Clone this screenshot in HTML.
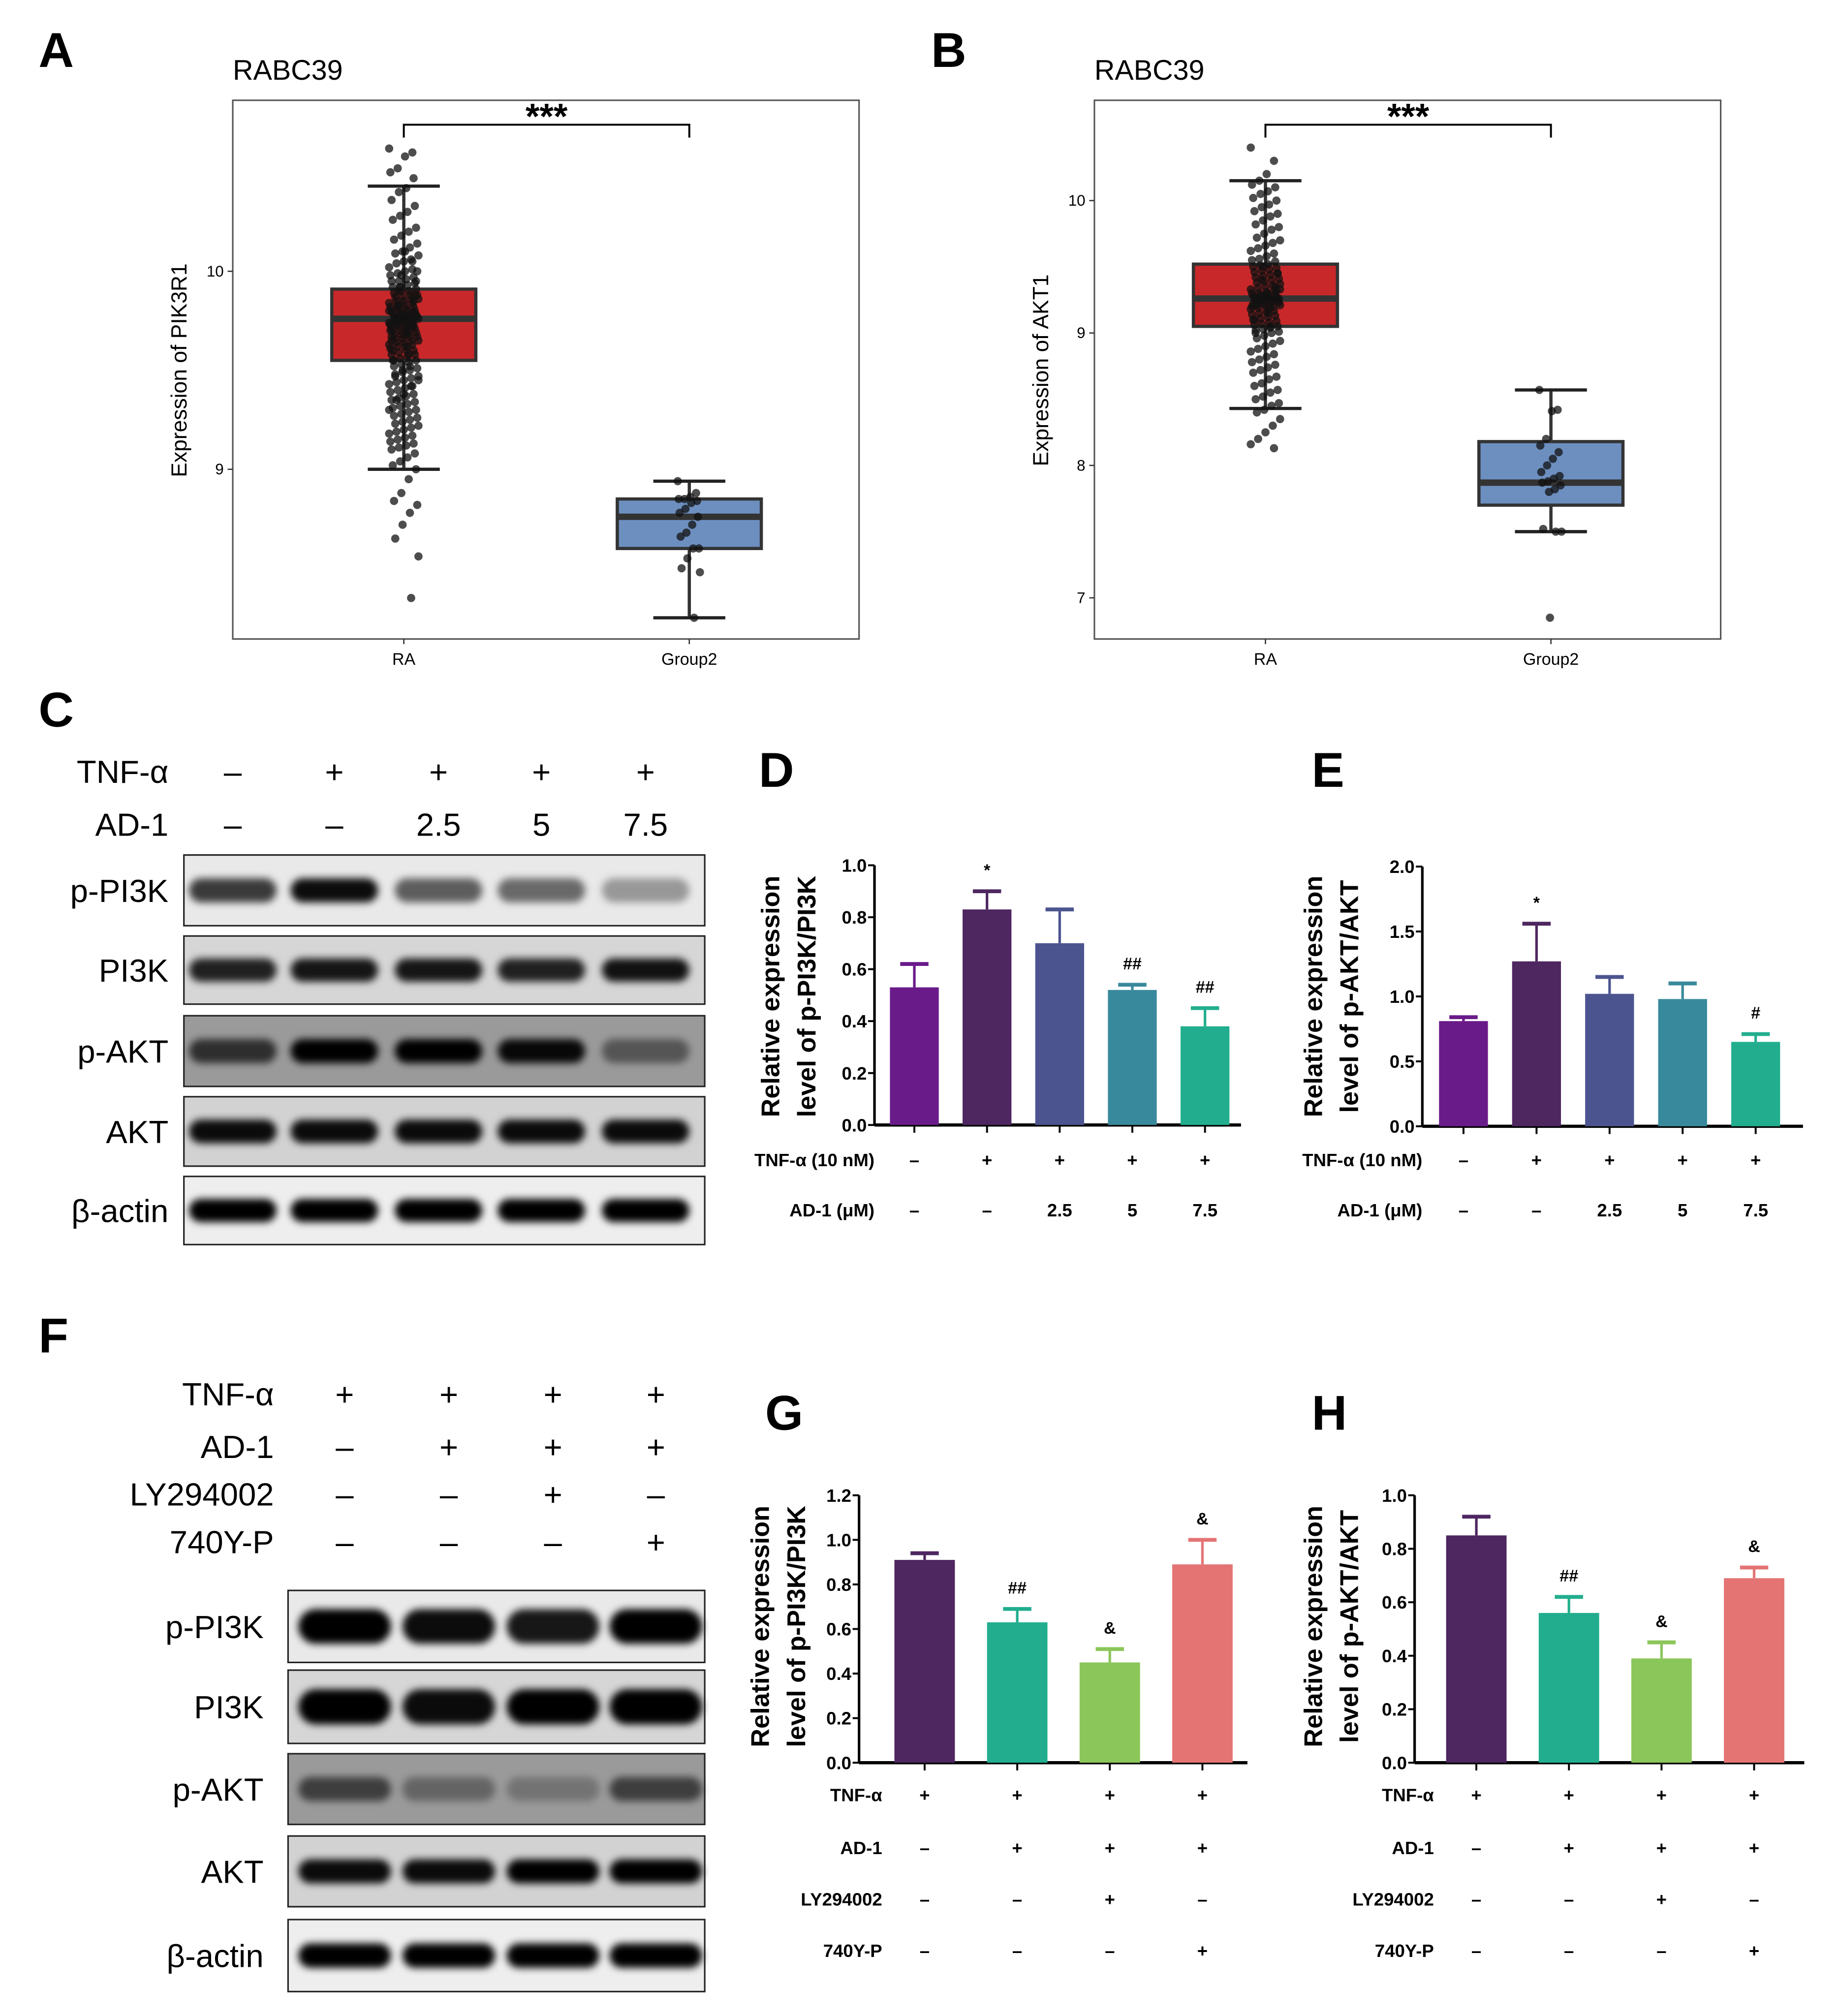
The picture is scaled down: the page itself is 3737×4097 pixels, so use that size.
<!DOCTYPE html>
<html><head><meta charset="utf-8"><style>
html,body{margin:0;padding:0;background:#fff;}
svg{display:block;}
text{font-family:"Liberation Sans",sans-serif;}
</style></head><body>
<svg id="fig" width="3737" height="4097" viewBox="0 0 1430 1568" preserveAspectRatio="none" xmlns="http://www.w3.org/2000/svg">
<defs>
<filter id="blur" x="-20%" y="-60%" width="140%" height="220%"><feGaussianBlur stdDeviation="3"/></filter>
</defs>
<g id="root"></g>
</svg>
<script>
// ===== Panel A/B data =====
const boxCats = ["RA", "Group2"];
const aYTicks = [9, 10];
const aStats = [[9.0, 9.55, 9.76, 9.91, 10.43], [8.25, 8.6, 8.76, 8.85, 8.94]];
const aPointsRA = [10.62,10.6,10.58,10.52,10.5,10.47,10.42,10.4,10.36,10.33,10.3,10.28,10.26,10.22,10.2,10.18,10.16,10.14,10.12,10.1,10.09,10.08,10.06,10.05,10.04,10.02,10.01,10.0,9.99,9.98,9.97,9.96,9.95,9.95,9.94,9.93,9.92,9.92,9.91,9.9,9.9,9.89,9.88,9.88,9.87,9.87,9.86,9.86,9.85,9.85,9.84,9.84,9.83,9.83,9.82,9.82,9.81,9.81,9.8,9.8,9.8,9.79,9.79,9.78,9.78,9.78,9.77,9.77,9.77,9.76,9.76,9.76,9.75,9.75,9.75,9.74,9.74,9.74,9.73,9.73,9.73,9.72,9.72,9.71,9.71,9.7,9.7,9.7,9.69,9.69,9.68,9.68,9.67,9.67,9.66,9.66,9.65,9.65,9.64,9.64,9.63,9.63,9.62,9.62,9.61,9.6,9.6,9.59,9.58,9.58,9.57,9.56,9.55,9.55,9.54,9.53,9.52,9.51,9.5,9.49,9.48,9.47,9.46,9.45,9.44,9.43,9.42,9.41,9.4,9.39,9.38,9.37,9.36,9.35,9.34,9.33,9.32,9.31,9.3,9.29,9.28,9.27,9.26,9.25,9.24,9.23,9.22,9.21,9.2,9.19,9.18,9.17,9.16,9.15,9.14,9.13,9.12,9.11,9.1,9.08,9.06,9.04,9.02,9.0,8.95,8.88,8.84,8.82,8.78,8.72,8.65,8.56,8.35,9.78,9.74,9.8,9.72,9.76,9.82,9.7,9.85,9.68,9.9,9.65,9.88,9.62,9.92,9.6,9.95,9.58,9.98,9.55,10.0,9.52,9.5,9.47,9.45,9.42,9.38,9.35,9.3,10.05,10.1,9.77,9.73,9.79,9.71,9.83,9.67];
const aPointsG2 = [8.94,8.88,8.86,8.85,8.85,8.84,8.83,8.8,8.78,8.76,8.72,8.68,8.66,8.6,8.6,8.55,8.5,8.48,8.25];
const bYTicks = [7, 8, 9, 10];
const bStats = [[8.43, 9.05, 9.26, 9.52, 10.15], [7.5, 7.7, 7.87, 8.18, 8.57]];
const bPointsRA = [10.4,10.3,10.2,10.15,10.12,10.1,10.07,10.05,10.02,10.0,9.97,9.95,9.92,9.9,9.88,9.85,9.82,9.8,9.78,9.75,9.72,9.7,9.68,9.66,9.64,9.62,9.6,9.58,9.56,9.55,9.54,9.52,9.51,9.5,9.49,9.48,9.47,9.46,9.45,9.44,9.43,9.42,9.41,9.4,9.39,9.38,9.37,9.36,9.35,9.34,9.33,9.32,9.31,9.3,9.3,9.29,9.29,9.28,9.28,9.27,9.27,9.26,9.26,9.25,9.25,9.24,9.24,9.23,9.23,9.22,9.22,9.21,9.2,9.2,9.19,9.18,9.17,9.16,9.15,9.14,9.13,9.12,9.11,9.1,9.09,9.08,9.07,9.06,9.05,9.04,9.03,9.02,9.01,9.0,8.98,8.96,8.94,8.92,8.9,8.88,8.86,8.84,8.82,8.8,8.78,8.76,8.74,8.72,8.7,8.67,8.65,8.62,8.6,8.57,8.55,8.52,8.5,8.47,8.45,8.42,8.4,8.35,8.3,8.25,8.2,8.16,8.13,9.3,9.25,9.2,9.35,9.15,9.28,9.22,9.32,9.18,9.4,9.1,9.45,9.05,9.5,9.0,9.26,9.24,9.27,9.21,9.33];
const bPointsG2 = [8.57,8.42,8.41,8.2,8.15,8.1,8.05,8.0,7.95,7.92,7.9,7.88,7.87,7.85,7.82,7.8,7.52,7.5,7.5,6.85];
// ===== Bar chart data =====
const dValues = [0.53, 0.83, 0.70, 0.52, 0.38];
const dErr = [0.62, 0.90, 0.83, 0.54, 0.45];
const dTicks = ["0.0","0.2","0.4","0.6","0.8","1.0"];
const dMarks = ["", "*", "", "##", "##"];
const eValues = [0.81, 1.27, 1.02, 0.98, 0.65];
const eErr = [0.84, 1.56, 1.15, 1.10, 0.71];
const eTicks = ["0.0","0.5","1.0","1.5","2.0"];
const eMarks = ["", "*", "", "", "#"];
const deTNF = ["–","+","+","+","+"];
const deAD = ["–","–","2.5","5","7.5"];
const gValues = [0.91, 0.63, 0.45, 0.89];
const gErr = [0.94, 0.69, 0.51, 1.00];
const gTicks = ["0.0","0.2","0.4","0.6","0.8","1.0","1.2"];
const gMarks = ["", "##", "&", "&"];
const hValues = [0.85, 0.56, 0.39, 0.69];
const hErr = [0.92, 0.62, 0.45, 0.73];
const hTicks = ["0.0","0.2","0.4","0.6","0.8","1.0"];
const hMarks = ["", "##", "&", "&"];
const ghTNF = ["+","+","+","+"];
const ghAD = ["–","+","+","+"];
const ghLY = ["–","–","+","–"];
const ghY = ["–","–","–","+"];
// ===== Blot data (band intensity 0..1 per lane) =====
const cBlotNames = ["p-PI3K","PI3K","p-AKT","AKT","β-actin"];
const cBlotIntensity = [[0.75,0.95,0.6,0.55,0.35],[0.85,0.9,0.9,0.85,0.92],[0.7,1,1,0.95,0.45],[0.95,0.95,0.95,0.95,0.95],[1,1,1,1,1]];
const fBlotNames = ["p-PI3K","PI3K","p-AKT","AKT","β-actin"];
const fBlotIntensity = [[1,0.95,0.9,1],[1,0.95,1,1],[0.6,0.35,0.25,0.6],[0.95,0.95,1,1],[1,1,1,1]];

const NS="http://www.w3.org/2000/svg";
const root=document.getElementById('root');
function el(tag,attrs,parent,txt){const e=document.createElementNS(NS,tag);for(const k in attrs)e.setAttribute(k,attrs[k]);if(txt!==undefined)e.textContent=txt;(parent||root).appendChild(e);return e;}
function txt(x,y,s,size,opts,parent){opts=opts||{};const a={x:x,y:y,'font-size':size,fill:'#000'};if(opts.anchor)a['text-anchor']=opts.anchor;if(opts.bold)a['font-weight']='bold';if(opts.rot)a.transform='rotate(-90 '+x+' '+y+')';const t=el('text',a,parent,s);return t;}

[["A",30,52],["B",724,52],["C",30,565],["D",590,612],["E",1020,612],["F",30,1052],["G",595,1112],["H",1020,1112]].forEach(p=>{
 const t=txt(p[1],p[2],p[0],38,{bold:true});
 
 
});

function boxPlot(px,title,ylab,ticks,stats,ptsRA,ptsG2,yOf,name){
 const g=el('g',{});
 
 
 const x0=px,y0=78,y1=497;
 const t=txt(x0,62,title,22,{},g);
 el('rect',{x:x0,y:y0,width:487,height:419,fill:'none',stroke:'#555','stroke-width':1.2},g);
 const cx=[x0+133,x0+355];
 ticks.forEach(v=>{const y=yOf(v);el('line',{x1:x0-4,x2:x0,y1:y,y2:y,stroke:'#333'},g);const tt=txt(x0-7,y+4,String(v),12,{anchor:'end'},g);});
 boxCats.forEach((c,i)=>{el('line',{x1:cx[i],x2:cx[i],y1:y1,y2:y1+4,stroke:'#333'},g);const tt=txt(cx[i],y1+20,c,13,{anchor:'middle'},g);});
 const yl=txt(px-36,288,ylab,17,{anchor:'middle',rot:true},g);
 const cols=['#c9282a','#6d8fc0'];
 stats.forEach((s,i)=>{
  const b=el('g',{},g);
  
  
  el('line',{x1:cx[i],x2:cx[i],y1:yOf(s[0]),y2:yOf(s[4]),stroke:'#333','stroke-width':2.5},b);
  el('line',{x1:cx[i]-28,x2:cx[i]+28,y1:yOf(s[0]),y2:yOf(s[0]),stroke:'#222','stroke-width':2.5},b);
  el('line',{x1:cx[i]-28,x2:cx[i]+28,y1:yOf(s[4]),y2:yOf(s[4]),stroke:'#222','stroke-width':2.5},b);
  el('rect',{x:cx[i]-56,y:yOf(s[3]),width:112,height:yOf(s[1])-yOf(s[3]),fill:cols[i],stroke:'#333','stroke-width':2.5},b);
  el('line',{x1:cx[i]-56,x2:cx[i]+56,y1:yOf(s[2]),y2:yOf(s[2]),stroke:'#333','stroke-width':5},b);
 });
 [ptsRA,ptsG2].forEach((arr,i)=>{
  arr.forEach((v,k)=>{
   const jit=((k*7919)%25-12)*(i==0?0.95:0.75);
   const p=el('circle',{cx:cx[i]+jit,cy:yOf(v),r:3.2,fill:'#111','fill-opacity':0.75},g);
   
   
  });
 });
 el('path',{d:`M${cx[0]} 107 V97 H${cx[1]} V107`,fill:'none',stroke:'#000','stroke-width':1.5},g);
 const st=txt((cx[0]+cx[1])/2,100,'***',28,{anchor:'middle',bold:true},g);
}
boxPlot(181,'RABC39','Expression of PIK3R1',aYTicks,aStats,aPointsRA,aPointsG2,v=>365-(v-9)*154,'boxplot-pik3r1');
boxPlot(851,'RABC39','Expression of AKT1',bYTicks,bStats,bPointsRA,bPointsG2,v=>259-(v-9)*103,'boxplot-akt1');

function blots(name,labelX,bx0,bx1,rows,lanesX,intens,names,bandW){
 const g=el('g',{});
 
 
 const bgs=['#e9e9e9','#d6d6d6','#9a9a9a','#d2d2d2','#eeeeee'];
 rows.forEach((r,ri)=>{
  const rg=el('g',{},g);
  
  
  const h=r[1]-r[0];const cy=r[0]+h/2;
  el('rect',{x:bx0,y:r[0],width:bx1-bx0,height:h,fill:bgs[ri]},rg);
  lanesX.forEach((lx,li)=>{
   const v=intens[ri][li];
   const bh=(name=='blot-f'&&ri<2)?h*0.48:h*0.34;
   el('rect',{x:lx-bandW/2,y:cy-bh/2,width:bandW,height:bh,rx:bh/2,fill:'#000','fill-opacity':v,filter:'url(#blur)'},rg);
  });
  el('rect',{x:bx0,y:r[0],width:bx1-bx0,height:h,fill:'none',stroke:'#222','stroke-width':1.2},rg);
  const t=txt(labelX,cy+9,names[ri],25,{anchor:'end'},rg);
  
  
 });
}
blots('blot-c',131,143,548,[[665,720],[728,781],[790,845],[853,907],[915,968]],[181,260,341,421,502],cBlotIntensity,cBlotNames,68);
blots('blot-f',205,224,548,[[1237,1293],[1299,1356],[1364,1419],[1428,1483],[1493,1549]],[268,349,430,510],fBlotIntensity,fBlotNames,72);

function condRows(name,labelX,lanes,rows){
 const g=el('g',{});
 
 
 rows.forEach(r=>{
  const t=txt(labelX,r[1]+9,r[0],25,{anchor:'end'},g);
  r[2].forEach((s,i)=>{const tt=txt(lanes[i],r[1]+9,s,25,{anchor:'middle'},g);});
 });
}
condRows('conditions-c',131,[181,260,341,421,502],[['TNF-α',600,deTNF],['AD-1',641,deAD]]);
condRows('conditions-f',213,[268,349,430,510],[['TNF-α',1084,ghTNF],['AD-1',1125,ghAD],['LY294002',1162,ghLY],['740Y-P',1199,ghY]]);

function barChart(o){
 const g=el('g',{});
 
 
 const yOf=v=>o.y0-(v/o.max)*(o.y0-o.yTop);
 const xOf=i=>o.first+o.step*i;
 el('line',{x1:o.ax,x2:o.ax,y1:o.yTop,y2:o.y0,stroke:'#000','stroke-width':2},g);
 el('line',{x1:o.ax,x2:o.xEnd,y1:o.y0,y2:o.y0,stroke:'#000','stroke-width':2.5},g);
 o.ticks.forEach(tk=>{const y=yOf(parseFloat(tk));el('line',{x1:o.ax-5,x2:o.ax,y1:y,y2:y,stroke:'#000','stroke-width':1.5},g);const t=txt(o.ax-6,y+5,tk,14,{anchor:'end',bold:true},g);});
 o.values.forEach((v,i)=>{
  const x=xOf(i);
  el('line',{x1:x,x2:x,y1:o.y0,y2:o.y0+6,stroke:'#000','stroke-width':1.5},g);
  const bg=el('g',{},g);
  
  
  el('line',{x1:x,x2:x,y1:yOf(v),y2:yOf(o.err[i]),stroke:o.colors[i],'stroke-width':2},bg);
  el('line',{x1:x-11,x2:x+11,y1:yOf(o.err[i]),y2:yOf(o.err[i]),stroke:o.colors[i],'stroke-width':3},bg);
  el('rect',{x:x-o.bw/2,y:yOf(v),width:o.bw,height:o.y0-yOf(v),fill:o.colors[i]},bg);
  if(o.marks[i]){const m=txt(x,yOf(o.err[i])-12,o.marks[i],13,{anchor:'middle',bold:true},g);}
 });
 const l1=txt(o.ylx,o.ylc,o.yl1,20,{anchor:'middle',bold:true,rot:true},g);
 const l2=txt(o.ylx+28,o.ylc,o.yl2,20,{anchor:'middle',bold:true,rot:true},g);
 o.rows.forEach(r=>{
  const t=txt(o.rowLabelX,r[1]+5,r[0],14,{anchor:'end',bold:true},g);
  r[2].forEach((s,i)=>{const tt=txt(xOf(i),r[1]+5,s,14,{anchor:'middle',bold:true},g);});
 });
}
const c5=['#6a1b8a','#4e2660','#4c5490','#39899c','#22ae8e'];
const c4=['#4e2660','#22ae8e','#8bc65a','#e47474'];
barChart({name:'bar-chart-d',ax:680,xEnd:965,first:711,step:56.5,y0:875,yTop:673,max:1.0,values:dValues,err:dErr,ticks:dTicks,marks:dMarks,colors:c5,bw:38,ylx:606,ylc:775,yl1:'Relative expression',yl2:'level of p-PI3K/PI3K',rowLabelX:680,rows:[['TNF-α (10 nM)',902,deTNF],['AD-1 (μM)',941,deAD]]});
barChart({name:'bar-chart-e',ax:1106,xEnd:1402,first:1138,step:56.8,y0:876,yTop:674,max:2.0,values:eValues,err:eErr,ticks:eTicks,marks:eMarks,colors:c5,bw:38,ylx:1028,ylc:775,yl1:'Relative expression',yl2:'level of p-AKT/AKT',rowLabelX:1106,rows:[['TNF-α (10 nM)',902,deTNF],['AD-1 (μM)',941,deAD]]});
barChart({name:'bar-chart-g',ax:668,xEnd:970,first:719,step:72,y0:1371,yTop:1163,max:1.2,values:gValues,err:gErr,ticks:gTicks,marks:gMarks,colors:c4,bw:47,ylx:598,ylc:1265,yl1:'Relative expression',yl2:'level of p-PI3K/PI3K',rowLabelX:686,rows:[['TNF-α',1396,ghTNF],['AD-1',1437,ghAD],['LY294002',1477,ghLY],['740Y-P',1517,ghY]]});
barChart({name:'bar-chart-h',ax:1100,xEnd:1403,first:1148,step:72,y0:1371,yTop:1163,max:1.0,values:hValues,err:hErr,ticks:hTicks,marks:hMarks,colors:c4,bw:47,ylx:1028,ylc:1265,yl1:'Relative expression',yl2:'level of p-AKT/AKT',rowLabelX:1115,rows:[['TNF-α',1396,ghTNF],['AD-1',1437,ghAD],['LY294002',1477,ghLY],['740Y-P',1517,ghY]]});
</script>
</body></html>
